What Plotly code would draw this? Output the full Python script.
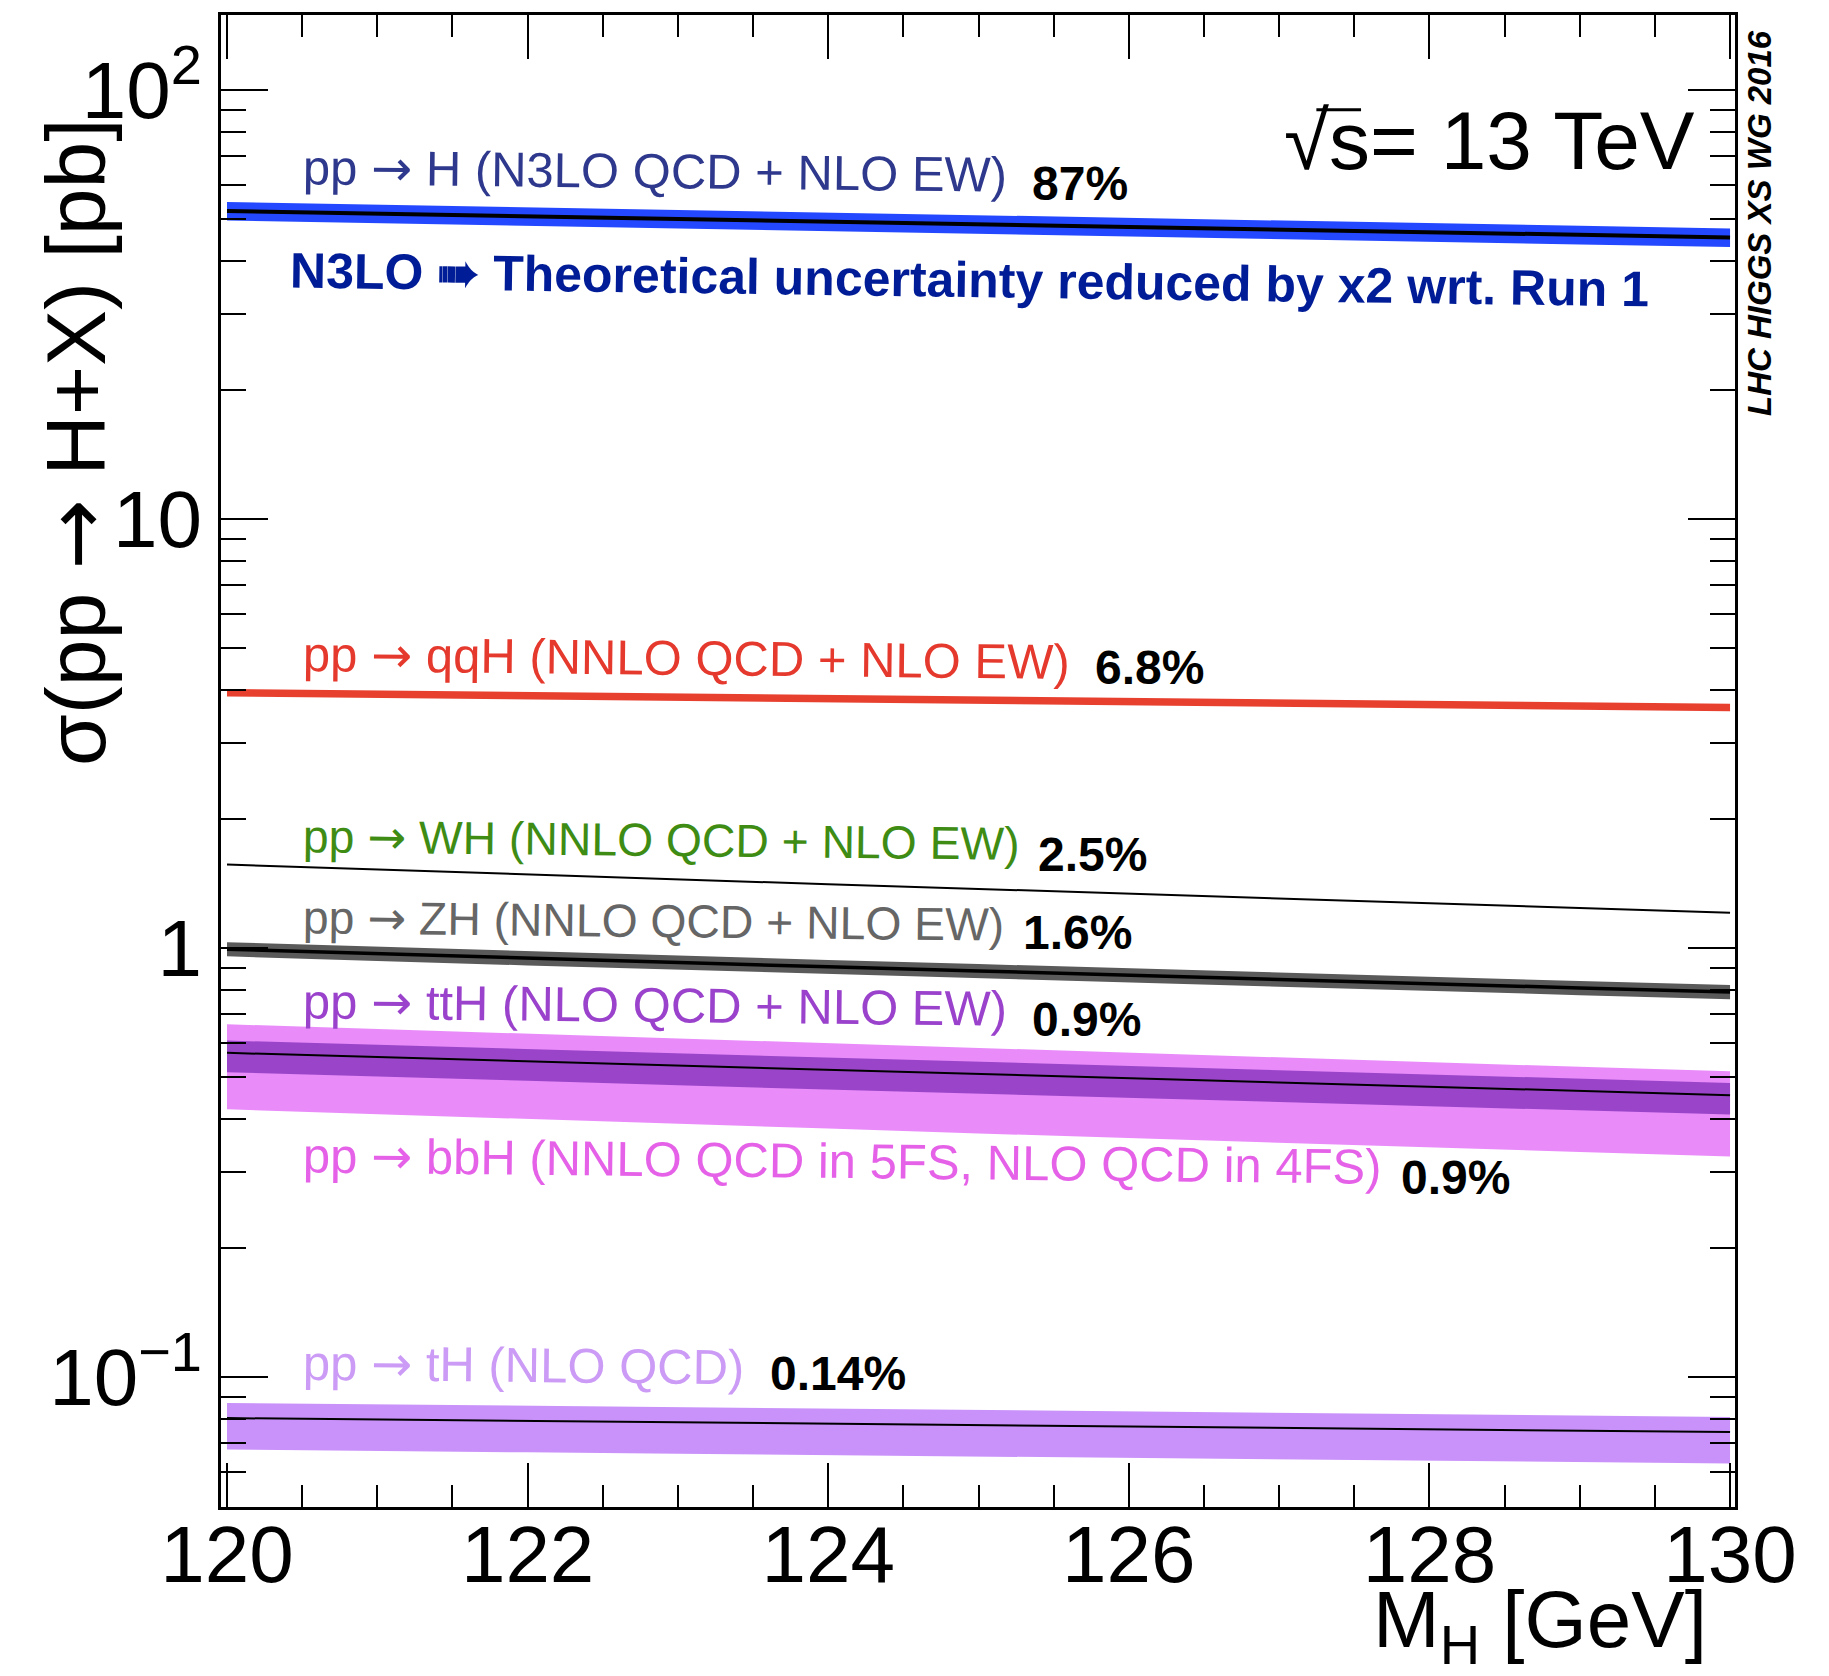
import plotly.graph_objects as go

# Higgs boson mass points [GeV]
mass = [120, 121, 122, 123, 124, 125, 126, 127, 128, 129, 130]

# Production cross sections at sqrt(s) = 13 TeV [pb]
ggh_xsec = [52.22, 51.46, 50.71, 49.97, 49.27, 48.58, 47.89, 47.22, 46.58, 45.94, 45.31]
vbf_xsec = [3.935, 3.904, 3.873, 3.841, 3.812, 3.782, 3.755, 3.727, 3.698, 3.667, 3.637]
wh_xsec = [1.565, 1.523, 1.483, 1.445, 1.408, 1.373, 1.339, 1.305, 1.272, 1.240, 1.209]
zh_xsec = [0.9939, 0.9698, 0.9466, 0.9249, 0.9039, 0.8839, 0.8634, 0.8443, 0.8254, 0.8072, 0.7899]
tth_xsec = [0.5697, 0.5569, 0.5442, 0.5310, 0.5193, 0.5071, 0.4963, 0.4851, 0.4743, 0.4641, 0.4539]
bbh_xsec = [0.5534, 0.5394, 0.5258, 0.5125, 0.4992, 0.4863, 0.4741, 0.4625, 0.4512, 0.4404, 0.4300]
th_xsec = [0.0802, 0.0796, 0.0790, 0.0784, 0.0779, 0.0774, 0.0768, 0.0761, 0.0756, 0.0750, 0.0744]

# Total theory uncertainty, (up %, down %)
ggh_unc = (5.0, 5.0)
vbf_unc = (2.0, 2.0)
zh_unc = (3.8, 3.8)
tth_unc = (6.8, 9.9)
bbh_unc = (20.0, 24.0)
th_unc = (8.5, 15.5)

ARROW = '<span style="font-family:DejaVu Sans">\u2192</span>'

# Process labels and fraction of the total cross section
process_labels = [
    "pp " + ARROW + " H (N3LO QCD + NLO EW)",
    "pp " + ARROW + " qqH (NNLO QCD + NLO EW)",
    "pp " + ARROW + " WH (NNLO QCD + NLO EW)",
    "pp " + ARROW + " ZH (NNLO QCD + NLO EW)",
    "pp " + ARROW + " ttH (NLO QCD + NLO EW)",
    "pp " + ARROW + " bbH (NNLO QCD in 5FS, NLO QCD in 4FS)",
    "pp " + ARROW + " tH (NLO QCD)",
]
fractions = ["87%", "6.8%", "2.5%", "1.6%", "0.9%", "0.9%", "0.14%"]

y_tickvals = [0.1, 1, 10, 100]
y_ticktext = ["10<sup>\u22121</sup>", "1", "10", "10<sup>2</sup>"]
x_tickvals = [120, 122, 124, 126, 128, 130]

FONT = "Liberation Sans, Arial, Helvetica, sans-serif"


def band(xs, ys, unc, color):
    up, dn = unc
    upper = [v * (1 + up / 100.0) for v in ys]
    lower = [v * (1 - dn / 100.0) for v in ys]
    return go.Scatter(
        x=list(xs) + list(xs)[::-1],
        y=upper + lower[::-1],
        mode="lines",
        fill="toself",
        fillcolor=color,
        line=dict(width=0, color=color),
        hoverinfo="skip",
        showlegend=False,
    )


def central(xs, ys, width, color="black"):
    return go.Scatter(x=xs, y=ys, mode="lines", line=dict(color=color, width=width),
                      hoverinfo="skip", showlegend=False)


fig = go.Figure()

# ggF
fig.add_trace(band(mass, ggh_xsec, ggh_unc, "#2448FF"))
fig.add_trace(central(mass, ggh_xsec, 4))
# VBF
fig.add_trace(band(mass, vbf_xsec, vbf_unc, "#E8402F"))
# WH
fig.add_trace(central(mass, wh_xsec, 2))
# ZH
fig.add_trace(band(mass, zh_xsec, zh_unc, "#5A5A5A"))
fig.add_trace(central(mass, zh_xsec, 3.5))
# bbH then ttH on top
fig.add_trace(band(mass, bbh_xsec, bbh_unc, "#E98CFA"))
fig.add_trace(band(mass, tth_xsec, tth_unc, "#9A45C9"))
fig.add_trace(central(mass, tth_xsec, 2))
# tH
fig.add_trace(band(mass, th_xsec, th_unc, "#C992FA"))
fig.add_trace(central(mass, th_xsec, 2))

# Label placement: (x in GeV, log10 y) for the process name and for the fraction
label_colors = ["#2E388C", "#E5392D", "#3E8C14", "#666666", "#9A42CC", "#E561E8", "#CB9BF6"]
label_sizes = [49, 49, 46.3, 46.3, 49, 49, 49]
label_pos = [(120.49, 1.809), (120.49, 0.674), (120.49, 0.252), (120.49, 0.063),
             (120.49, -0.133), (120.49, -0.497), (120.49, -0.972)]
frac_pos = [(125.34, 1.781), (125.76, 0.655), (125.38, 0.217), (125.28, 0.035),
            (125.34, -0.166), (127.80, -0.536), (123.60, -0.991)]

annotations = []
for text, col, size, (lx, ly), frac, (fx, fy) in zip(process_labels, label_colors, label_sizes,
                                                      label_pos, fractions, frac_pos):
    annotations.append(dict(x=lx, y=ly, xref="x", yref="y", text=text, showarrow=False,
                            xanchor="left", yanchor="middle", textangle=0.6,
                            font=dict(family=FONT, size=size, color=col)))
    annotations.append(dict(x=fx, y=fy, xref="x", yref="y", text="<b>" + frac + "</b>",
                            showarrow=False, xanchor="left", yanchor="middle",
                            font=dict(family=FONT, size=48, color="black")))

annotations.append(dict(x=120.406, y=1.557, xref="x", yref="y",
                        text="<b>N3LO \u27a0 Theoretical uncertainty reduced by x2 wrt. Run 1</b>",
                        showarrow=False, xanchor="left", yanchor="middle", textangle=0.8,
                        font=dict(family=FONT, size=50, color="#001C96")))

annotations.append(dict(x=0.975, y=0.916, xref="paper", yref="paper",
                        text="\u221as= 13 TeV", showarrow=False,
                        xanchor="right", yanchor="middle",
                        font=dict(family=FONT, size=82, color="black")))

annotations.append(dict(x=1.0165, y=0.8606, xref="paper", yref="paper",
                        text="<b><i>LHC HIGGS XS WG 2016</i></b>", showarrow=False,
                        textangle=-90, xanchor="center", yanchor="middle",
                        font=dict(family=FONT, size=33, color="black")))

annotations.append(dict(x=0.9828, y=-0.0792, xref="paper", yref="paper",
                        text="M<sub>H</sub> [GeV]", showarrow=False,
                        xanchor="right", yanchor="middle",
                        font=dict(family=FONT, size=80, color="black")))

annotations.append(dict(x=-0.0958, y=0.7138, xref="paper", yref="paper",
                        text="\u03c3(pp " + ARROW + " H+X) [pb]", showarrow=False,
                        textangle=-90, xanchor="center", yanchor="middle",
                        font=dict(family=FONT, size=84, color="black")))

# overbar of the square root sign
shapes = [dict(type="line", xref="paper", yref="paper", x0=0.7235, x1=0.7530,
               y0=0.9365, y1=0.9365, line=dict(color="black", width=3))]

y_minor = [m * 10 ** e for e in (-2, -1, 0, 1) for m in range(2, 10)]

fig.update_layout(
    width=1829, height=1676, autosize=False,
    margin=dict(l=221, r=94, t=15, b=169),
    paper_bgcolor="white", plot_bgcolor="white",
    showlegend=False,
    annotations=annotations,
    shapes=shapes,
    xaxis=dict(
        range=[119.96, 130.033], showgrid=False, zeroline=False,
        showline=True, linewidth=3, linecolor="black", mirror="allticks",
        ticks="inside", ticklen=44, tickwidth=2, tickcolor="black",
        tickvals=x_tickvals, ticklabelstandoff=-24,
        tickfont=dict(family=FONT, size=80, color="black"),
        minor=dict(ticks="inside", ticklen=22, tickwidth=2, tickcolor="black",
                   dtick=0.5, tick0=120, showgrid=False),
    ),
    yaxis=dict(
        type="log", range=[-1.303, 2.1748], showgrid=False, zeroline=False,
        showline=True, linewidth=3, linecolor="black", mirror="allticks",
        ticks="inside", ticklen=47, tickwidth=2, tickcolor="black",
        tickvals=y_tickvals, ticktext=y_ticktext,
        tickfont=dict(family=FONT, size=80, color="black"),
        minor=dict(ticks="inside", ticklen=25, tickwidth=2, tickcolor="black",
                   tickvals=y_minor, showgrid=False),
    ),
)

fig.write_html("out.html")
